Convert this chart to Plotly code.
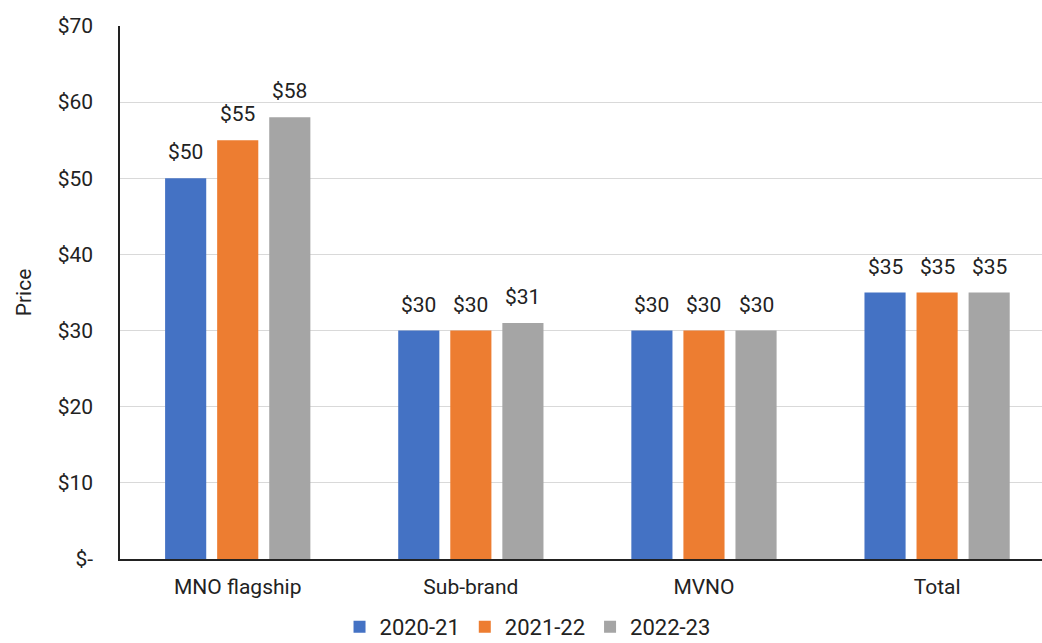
import plotly.graph_objects as go

categories = ["MNO flagship", "Sub-brand", "MVNO", "Total"]
series_names = ["2020-21", "2021-22", "2022-23"]
values_2020 = [50, 30, 30, 35]
values_2021 = [55, 30, 30, 35]
values_2022 = [58, 31, 30, 35]
colors = ["#4472C4", "#ED7D31", "#A5A5A5"]
tick_vals = [0, 10, 20, 30, 40, 50, 60, 70]
tick_text = ["$-", "$10", "$20", "$30", "$40", "$50", "$60", "$70"]

W, H = 1042, 643
ML, MR, MT, MB = 120, 0, 26, 84
X_RANGE = [-0.505, 3.45]
BARGAP, BARGROUPGAP = 0.33, 0.21

fig = go.Figure()
all_vals = [values_2020, values_2021, values_2022]
for name, vals, col in zip(series_names, all_vals, colors):
    fig.add_trace(go.Bar(
        x=categories, y=vals, name=name, marker_color=col,
        marker_line_width=0,
    ))

# data labels above each bar
px_per_cat = (W - ML - MR) / (X_RANGE[1] - X_RANGE[0])
slot = px_per_cat * (1 - BARGAP) / len(series_names)
for i, vals in enumerate(all_vals):
    for cat, v in zip(categories, vals):
        fig.add_annotation(
            x=cat, y=v, text=f"${v}", showarrow=False,
            xanchor="center", yanchor="bottom",
            xshift=(i - 1) * slot, yshift=12,
            font=dict(size=21, color="#222222", family="Roboto"),
        )

fig.update_layout(
    width=W, height=H,
    margin=dict(l=ML, r=MR, t=MT, b=MB, autoexpand=False),
    paper_bgcolor="white", plot_bgcolor="white",
    font=dict(family="Roboto", size=21, color="#222222"),
    barmode="group", bargap=BARGAP, bargroupgap=BARGROUPGAP,
    showlegend=True,
    legend=dict(orientation="h", x=0.442, xanchor="center", y=-0.088, yanchor="top",
                font=dict(size=22), itemwidth=30, traceorder="normal"),
    xaxis=dict(range=X_RANGE, showline=True, linecolor="#222222", linewidth=1.5,
               showgrid=False, ticks="", ticklabelstandoff=8, tickfont=dict(size=21)),
    yaxis=dict(range=[0, 70], tickvals=tick_vals, ticktext=tick_text,
               showline=True, linecolor="#222222", linewidth=1.5,
               gridcolor="#D9D9D9", gridwidth=1, zeroline=False, ticks="",
               ticklabelstandoff=21, tickfont=dict(size=21),
               title=dict(text="Price", font=dict(size=21), standoff=20)),
)

fig.write_html("out.html")
